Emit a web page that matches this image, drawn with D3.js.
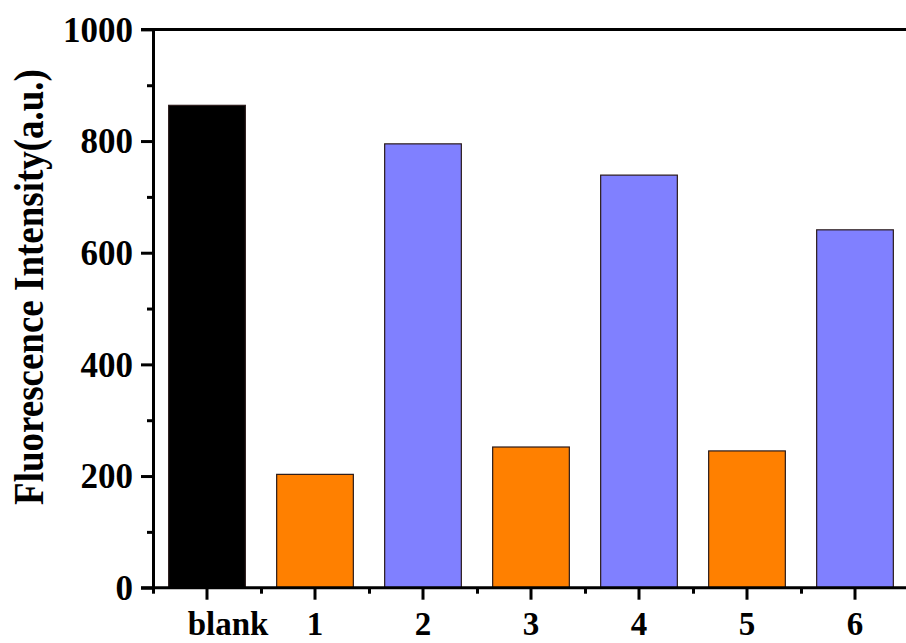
<!DOCTYPE html>
<html>
<head>
<meta charset="utf-8">
<script src="https://cdn.jsdelivr.net/npm/d3@7"></script>
<style>
  body { margin: 0; background: #fff; }
  svg text { font-family: "Times New Roman", "Liberation Serif", serif; font-weight: bold; fill: #000; }
</style>
</head>
<body>
<svg id="chart" width="906" height="643"></svg>
<script>
// data
const categories = ["blank", "1", "2", "3", "4", "5", "6"];
const intensity = [864, 203, 795, 252, 739, 245, 641];
const groups = ["blank", "low", "high", "low", "high", "low", "high"];
const yTicks = [0, 200, 400, 600, 800, 1000];
const yMinor = [100, 300, 500, 700, 900];

const fills = { blank: "#000000", low: "#FF8000", high: "#8080FF" };

const svg = d3.select("#chart");
const plotLeft = 153, plotRight = 909, plotTop = 29.4, plotBottom = 587.7;

const x = d3.scaleBand()
  .domain(categories)
  .range([plotLeft, plotRight])
  .paddingInner(0.29)
  .paddingOuter(0.145);

const y = d3.scaleLinear()
  .domain([0, 1000])
  .range([plotBottom, plotTop]);

// slots between bars, used for the minor x ticks
const xSlot = d3.scaleLinear().domain([0, categories.length]).range([plotLeft, plotRight]);

// bars
svg.append("g")
  .selectAll("rect")
  .data(categories)
  .join("rect")
    .attr("x", d => x(d))
    .attr("y", (d, i) => y(intensity[i]))
    .attr("width", x.bandwidth())
    .attr("height", (d, i) => y(0) - y(intensity[i]))
    .attr("fill", (d, i) => fills[groups[i]])
    .attr("stroke", "#2a1a1a")
    .attr("stroke-width", 1.2);

// frame top/right
svg.append("path")
  .attr("d", `M${plotLeft - 12},${y(1000)}H${plotRight}V${y(0)}`)
  .attr("fill", "none")
  .attr("stroke", "#000")
  .attr("stroke-width", 3);

// y axis
const yAxis = svg.append("g")
  .attr("transform", `translate(${plotLeft},0)`)
  .call(d3.axisLeft(y).tickValues(yTicks).tickFormat(d3.format("d"))
    .tickSize(12).tickSizeOuter(0).tickPadding(8));
svg.append("g")
  .attr("transform", `translate(${plotLeft},0)`)
  .call(d3.axisLeft(y).tickValues(yMinor).tickSize(6).tickSizeOuter(0).tickFormat(""))
  .select(".domain").remove();

yAxis.selectAll("text").style("font-size", "35px").attr("dy", "0.34em");

// x axis
const xAxis = svg.append("g")
  .attr("transform", `translate(0,${plotBottom})`)
  .call(d3.axisBottom(x).tickSize(12).tickSizeOuter(0).tickPadding(10));
svg.append("g")
  .attr("transform", `translate(0,${plotBottom})`)
  .call(d3.axisBottom(xSlot).ticks(categories.length).tickSize(6).tickSizeOuter(0).tickFormat(""))
  .select(".domain").remove();

xAxis.select(".domain").attr("d", `M${plotLeft - 12},0H${plotRight}`);
xAxis.selectAll("text")
  .style("font-size", "33px")
  .attr("dy", null)
  .attr("y", 47)
  .attr("dx", d => d === "blank" ? 21 : 0);

svg.selectAll(".domain").attr("stroke-width", 3);
svg.selectAll(".tick line").attr("stroke-width", 3);

// y label
svg.append("text")
  .attr("transform", `translate(43,287) rotate(-90) scale(1,1.12)`)
  .attr("text-anchor", "middle")
  .style("font-size", "37px")
  .text("Fluorescence Intensity(a.u.)");
</script>
</body>
</html>
